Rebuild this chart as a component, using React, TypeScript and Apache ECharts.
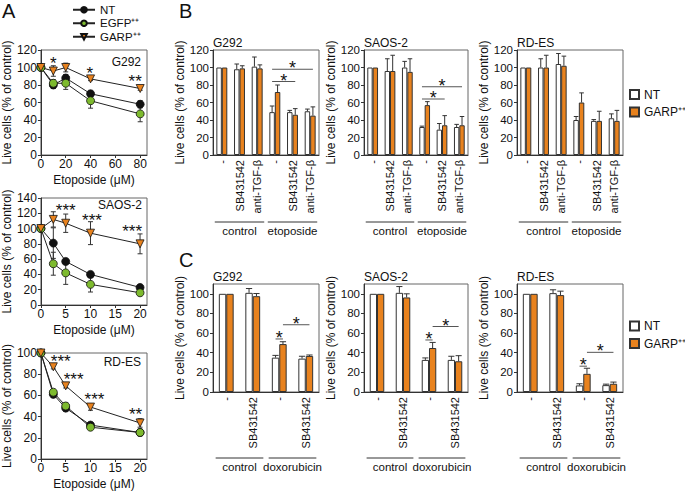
import React, { useEffect, useRef } from 'react';
import * as echarts from 'echarts';

const FONT = '"Liberation Sans", Arial, Helvetica, sans-serif';
const AX = '#333';
const BORDER = '#666';
const TXT = '#111';
const ORANGE = '#E8821E';
const GREEN = '#7DBA2E';

const LINE_NAMES = ['NT', 'EGFP⁺⁺', 'GARP⁺⁺'];
const BAR_NAMES = ['NT ', 'GARP⁺⁺ '];
const Y_NAME = 'Live cells (% of control)';
const A_X_NAME = 'Etoposide (μM)';
const CELL_LINES = ['G292', 'SAOS-2', 'RD-ES'];

// ---------- Panel A ----------
const A1_X = [0, 10, 20, 40, 80];
const A1_X_TICKS = [0, 20, 40, 60, 80];
const A1_NT = [100, 80, 88, 70, 58];
const A1_NT_ERR = [0, 4, 4, 3, 4];
const A1_EGFP = [100, 82, 82, 62, 47];
const A1_EGFP_ERR = [0, 4, 7, 8.5, 9];
const A1_GARP = [100, 96, 100, 87, 76];
const A1_GARP_ERR = [0, 6, 5, 2, 2];
const A1_STARS = [[10, 109, 1], [39.5, 98, 1], [76, 89, 2]];

const A2_X = [0, 2.5, 5, 10, 20];
const A23_X_TICKS = [0, 5, 10, 15, 20];
const A2_NT = [100, 81, 57, 40, 23];
const A2_NT_ERR = [0, 20, 2, 3, 2];
const A2_EGFP = [100, 54, 42, 27, 16];
const A2_EGFP_ERR = [0, 15, 15, 10, 3];
const A2_GARP = [100, 112, 107, 94, 80];
const A2_GARP_ERR = [0, 10, 12, 15, 13];
const A2_STARS = [[5.0, 129, 3], [10.3, 116, 3], [18.4, 102, 3]];

const A3_X = [0, 2.5, 5, 10, 20];
const A3_NT = [100, 61, 48, 32, 25];
const A3_NT_ERR = [0, 3, 3, 2, 3];
const A3_EGFP = [100, 63, 50, 30, 25];
const A3_EGFP_ERR = [0, 2, 3, 2, 3];
const A3_GARP = [100, 87, 69, 49, 34];
const A3_GARP_ERR = [0, 2, 2, 3, 4];
const A3_STARS = [[4.0, 96, 3], [6.6, 79, 3], [10.8, 60, 3], [19.1, 46, 2]];

// ---------- Panel B ----------
const B_CATS = ['-', 'SB431542', 'anti-TGF-β', '-', 'SB431542', 'anti-TGF-β'];
const B_GROUPS = ['control', 'etoposide'];
const B_GROUP_SPANS = [[0, 2, 0], [3, 5, 1]];
const B1_NT = [100, 98, 101, 49, 49, 50];
const B1_NT_ERR = [0, 6, 11, 7, 2, 2.5];
const B1_GARP = [100, 99, 99, 72, 46, 45];
const B1_GARP_ERR = [0, 3, 4, 8, 7, 10];
const B1_SIG = [[3, 0, 4, 1, 84, 1], [3, 0, 5, 1, 98, 1]];
const B2_NT = [100, 96, 100, 32, 29, 32];
const B2_NT_ERR = [0, 14, 7, 1, 7, 3];
const B2_GARP = [100, 96, 95, 57, 34, 34];
const B2_GARP_ERR = [0, 18, 15, 4, 11, 10];
const B2_SIG = [[3, 0, 4, 1, 64, 1], [3, 0, 5, 1, 78, 1]];
const B3_NT = [100, 100, 104, 40, 39, 42];
const B3_NT_ERR = [0, 10, 12, 4, 1.5, 5];
const B3_GARP = [100, 100, 102, 60, 39, 39];
const B3_GARP_ERR = [0, 14, 11, 11, 11, 12];
const B3_SIG: number[][] = [];

// ---------- Panel C ----------
const C_CATS = ['-', 'SB431542', '-', 'SB431542'];
const C_GROUPS = ['control', 'doxorubicin'];
const C_GROUP_SPANS = [[0, 1, 0], [2, 3, 1]];
const C_Y_TICKS = [0, 20, 40, 60, 80, 100];
const C1_NT = [100, 101, 35, 34];
const C1_NT_ERR = [0, 4.4, 2.3, 2.4];
const C1_GARP = [100, 97.6, 48.8, 36.7];
const C1_GARP_ERR = [0, 2.7, 2.4, 1];
const C1_SIG = [[2, 0, 2, 1, 54, 1], [2, 1, 3, 1, 68.5, 1]];
const C2_NT = [100, 101, 32.7, 32.7];
const C2_NT_ERR = [0, 6.4, 2, 3.7];
const C2_GARP = [100, 96.3, 44.8, 31.3];
const C2_GARP_ERR = [0, 3.7, 5.7, 5.7];
const C2_SIG = [[2, 0, 2, 1, 53, 1], [2, 1, 3, 1, 66.7, 1]];
const C3_NT = [100, 100.7, 6.7, 7];
const C3_NT_ERR = [0, 3.4, 1.7, 1];
const C3_GARP = [100, 98.7, 18.5, 8.4];
const C3_GARP_ERR = [0, 4, 5.7, 1.7];
const C3_SIG = [[2, 0, 2, 1, 26.3, 1], [2, 1, 3, 1, 40.4, 1]];

// ---------- helpers ----------
const LINE_LOOK = [
  { symbol: 'circle', size: 8, rotate: 0, color: '#111' },
  { symbol: 'circle', size: 8, rotate: 0, color: GREEN },
  { symbol: 'triangle', size: 8, rotate: 180, color: ORANGE },
];

const emptyGroup = () => ({ type: 'group', children: [] });

const lineErrRender = (params: any, api: any) => {
  const x = api.value(0), y = api.value(1), e = api.value(2);
  if (!e) return emptyGroup();
  const p1 = api.coord([x, y + e]);
  const p2 = api.coord([x, y - e]);
  const st = { stroke: AX, lineWidth: 1 };
  const c = 2.5;
  return {
    type: 'group',
    children: [
      { type: 'line', shape: { x1: p1[0], y1: p1[1], x2: p2[0], y2: p2[1] }, style: st },
      { type: 'line', shape: { x1: p1[0] - c, y1: p1[1], x2: p1[0] + c, y2: p1[1] }, style: st },
      { type: 'line', shape: { x1: p2[0] - c, y1: p2[1], x2: p2[0] + c, y2: p2[1] }, style: st },
    ],
  };
};

const starRender = (params: any, api: any) => {
  const p = api.coord([api.value(0), api.value(1)]);
  return {
    type: 'text',
    style: {
      text: '*'.repeat(api.value(2)), x: p[0], y: p[1] + 4,
      align: 'center', verticalAlign: 'middle', font: `17px ${FONT}`, fill: TXT,
    },
  };
};

const barErrRender = (frac: number) => (params: any, api: any) => {
  const cat = api.value(0), v = api.value(1), e = api.value(2), b = api.value(3);
  if (!e) return emptyGroup();
  const w = api.size([1, 0])[0] * frac;
  const base = api.coord([cat, v]);
  const top = api.coord([cat, v + e]);
  const x = base[0] + (b === 0 ? -w / 2 : w / 2);
  const c = w * 0.42;
  const st = { stroke: AX, lineWidth: 1 };
  return {
    type: 'group',
    children: [
      { type: 'line', shape: { x1: x, y1: base[1], x2: x, y2: top[1] }, style: st },
      { type: 'line', shape: { x1: x - c, y1: top[1], x2: x + c, y2: top[1] }, style: st },
    ],
  };
};

const sigRender = (frac: number) => (params: any, api: any) => {
  const w = api.size([1, 0])[0] * frac;
  const a = api.coord([api.value(0), api.value(4)]);
  const b = api.coord([api.value(2), api.value(4)]);
  const x1 = a[0] + (api.value(1) === 0 ? -w / 2 : w / 2);
  const x2 = b[0] + (api.value(3) === 0 ? -w / 2 : w / 2);
  const y = a[1];
  return {
    type: 'group',
    children: [
      { type: 'line', shape: { x1, y1: y, x2, y2: y }, style: { stroke: '#555', lineWidth: 1 } },
      {
        type: 'text',
        style: {
          text: '*'.repeat(api.value(5)), x: (x1 + x2) / 2, y: y - 1,
          align: 'center', verticalAlign: 'middle', font: `18px ${FONT}`, fill: TXT,
        },
      },
    ],
  };
};

const groupRender = (labels: string[], offset: number) => (params: any, api: any) => {
  const w = api.size([1, 0])[0];
  const a = api.coord([api.value(0), 0]);
  const b = api.coord([api.value(1), 0]);
  const x1 = a[0] - w * 0.4, x2 = b[0] + w * 0.4;
  const y = a[1] + offset;
  return {
    type: 'group',
    children: [
      { type: 'line', shape: { x1, y1: y, x2, y2: y }, style: { stroke: AX, lineWidth: 1 } },
      {
        type: 'text',
        style: {
          text: labels[api.value(2)], x: (x1 + x2) / 2, y: y + 3,
          align: 'center', verticalAlign: 'top', font: `11.5px ${FONT}`, fill: TXT,
        },
      },
    ],
  };
};

function buildOption() {
  const grids = [
    { left: 38, top: 50, width: 109, height: 105 },
    { left: 38, top: 198, width: 109, height: 107 },
    { left: 38, top: 353, width: 109, height: 107 },
    { left: 213, top: 50, width: 106, height: 105 },
    { left: 364, top: 50, width: 104, height: 105 },
    { left: 517, top: 50, width: 106, height: 105 },
    { left: 213, top: 284, width: 106, height: 108 },
    { left: 364, top: 284, width: 104, height: 108 },
    { left: 517, top: 284, width: 106, height: 108 },
  ].map((g) => ({ ...g, show: true, borderColor: BORDER, borderWidth: 1, backgroundColor: 'transparent' }));

  const xAxis: any[] = [];
  const yAxis: any[] = [];
  const series: any[] = [];

  const yName = (gap: number, fs: number) => ({
    name: Y_NAME, nameLocation: 'middle', nameGap: gap, nameRotate: 90,
    nameTextStyle: { fontSize: fs, color: TXT, fontFamily: FONT },
  });

  // Panel A
  const aSets = [
    { X: A1_X, ticks: A1_X_TICKS, xmax: 85.5, ymax: 120, vals: [A1_NT, A1_EGFP, A1_GARP], errs: [A1_NT_ERR, A1_EGFP_ERR, A1_GARP_ERR], stars: A1_STARS },
    { X: A2_X, ticks: A23_X_TICKS, xmax: 21.4, ymax: 140, vals: [A2_NT, A2_EGFP, A2_GARP], errs: [A2_NT_ERR, A2_EGFP_ERR, A2_GARP_ERR], stars: A2_STARS },
    { X: A3_X, ticks: A23_X_TICKS, xmax: 21.4, ymax: 100, vals: [A3_NT, A3_EGFP, A3_GARP], errs: [A3_NT_ERR, A3_EGFP_ERR, A3_GARP_ERR], stars: A3_STARS },
  ];
  aSets.forEach((s, g) => {
    xAxis.push({
      type: 'value', gridIndex: g, min: 0, max: s.xmax,
      axisLine: { show: true, onZero: false, lineStyle: { color: AX, width: 1 } },
      axisTick: { show: true, length: 3, customValues: s.ticks, lineStyle: { color: AX } },
      axisLabel: { customValues: s.ticks, fontSize: 12, color: TXT, fontFamily: FONT, margin: 3 },
      splitLine: { show: false },
      name: A_X_NAME, nameLocation: 'middle', nameGap: 19,
      nameTextStyle: { fontSize: 12, color: TXT, fontFamily: FONT },
    });
    yAxis.push({
      type: 'value', gridIndex: g, min: 0, max: s.ymax, interval: 20,
      axisLine: { show: true, lineStyle: { color: AX, width: 1 } },
      axisTick: { show: true, length: 3, lineStyle: { color: AX } },
      axisLabel: { fontSize: 12, color: TXT, fontFamily: FONT, margin: 4 },
      splitLine: { show: false },
      ...yName(26, 12),
    });
    const errData: number[][] = [];
    s.vals.forEach((vals, k) => {
      const look = LINE_LOOK[k];
      series.push({
        type: 'line', name: LINE_NAMES[k], xAxisIndex: g, yAxisIndex: g,
        data: s.X.map((x, i) => [x, vals[i]]),
        symbol: look.symbol, symbolSize: look.size, symbolRotate: look.rotate,
        itemStyle: { color: look.color, borderColor: '#111', borderWidth: 0.8 },
        lineStyle: { color: '#222', width: 1 },
        z: 4, silent: true,
      });
      s.X.forEach((x, i) => errData.push([x, vals[i], s.errs[k][i]]));
    });
    series.push({
      type: 'custom', xAxisIndex: g, yAxisIndex: g, data: errData,
      encode: { x: 0, y: 1 }, renderItem: lineErrRender, z: 3, silent: true,
    });
    series.push({
      type: 'custom', xAxisIndex: g, yAxisIndex: g, data: s.stars,
      encode: { x: 0, y: 1 }, renderItem: starRender, z: 5, silent: true,
    });
  });

  // Panels B & C
  const barSets = [
    { cats: B_CATS, groups: B_GROUPS, spans: B_GROUP_SPANS, ymax: 120, frac: 0.31, goff: 67, nt: B1_NT, ntE: B1_NT_ERR, ga: B1_GARP, gaE: B1_GARP_ERR, sig: B1_SIG, gap: 26 },
    { cats: B_CATS, groups: B_GROUPS, spans: B_GROUP_SPANS, ymax: 120, frac: 0.31, goff: 67, nt: B2_NT, ntE: B2_NT_ERR, ga: B2_GARP, gaE: B2_GARP_ERR, sig: B2_SIG, gap: 26 },
    { cats: B_CATS, groups: B_GROUPS, spans: B_GROUP_SPANS, ymax: 120, frac: 0.31, goff: 67, nt: B3_NT, ntE: B3_NT_ERR, ga: B3_GARP, gaE: B3_GARP_ERR, sig: B3_SIG, gap: 26 },
    { cats: C_CATS, groups: C_GROUPS, spans: C_GROUP_SPANS, ymax: 110, frac: 0.28, goff: 66, nt: C1_NT, ntE: C1_NT_ERR, ga: C1_GARP, gaE: C1_GARP_ERR, sig: C1_SIG, gap: 26 },
    { cats: C_CATS, groups: C_GROUPS, spans: C_GROUP_SPANS, ymax: 110, frac: 0.28, goff: 66, nt: C2_NT, ntE: C2_NT_ERR, ga: C2_GARP, gaE: C2_GARP_ERR, sig: C2_SIG, gap: 26 },
    { cats: C_CATS, groups: C_GROUPS, spans: C_GROUP_SPANS, ymax: 110, frac: 0.28, goff: 66, nt: C3_NT, ntE: C3_NT_ERR, ga: C3_GARP, gaE: C3_GARP_ERR, sig: C3_SIG, gap: 26 },
  ];
  barSets.forEach((s, j) => {
    const g = j + 3;
    const isC = s.ymax !== 120;
    xAxis.push({
      type: 'category', gridIndex: g, data: s.cats,
      axisLine: { show: true, lineStyle: { color: AX, width: 1 } },
      axisTick: { show: false },
      axisLabel: { interval: 0, rotate: 90, fontSize: 11, color: TXT, fontFamily: FONT, margin: 5 },
      splitLine: { show: false },
    });
    const yAx: any = {
      type: 'value', gridIndex: g, min: 0, max: s.ymax, interval: 20,
      axisLine: { show: true, lineStyle: { color: AX, width: 1 } },
      axisTick: { show: true, length: 3, lineStyle: { color: AX } },
      axisLabel: { fontSize: 11.5, color: TXT, fontFamily: FONT, margin: 4 },
      splitLine: { show: false },
      ...yName(s.gap, 12),
    };
    if (isC) {
      yAx.axisTick.customValues = C_Y_TICKS;
      yAx.axisLabel.customValues = C_Y_TICKS;
    }
    yAxis.push(yAx);
    const bw = `${Math.round(s.frac * 100)}%`;
    series.push({
      type: 'bar', name: BAR_NAMES[0], xAxisIndex: g, yAxisIndex: g, data: s.nt,
      barWidth: bw, barGap: '0%',
      itemStyle: { color: '#ffffff', borderColor: '#333', borderWidth: 1 }, silent: true,
    });
    series.push({
      type: 'bar', name: BAR_NAMES[1], xAxisIndex: g, yAxisIndex: g, data: s.ga,
      barWidth: bw, barGap: '0%',
      itemStyle: { color: ORANGE, borderColor: '#333', borderWidth: 1 }, silent: true,
    });
    const errData: number[][] = [];
    s.nt.forEach((v, i) => errData.push([i, v, s.ntE[i], 0]));
    s.ga.forEach((v, i) => errData.push([i, v, s.gaE[i], 1]));
    series.push({
      type: 'custom', xAxisIndex: g, yAxisIndex: g, data: errData,
      encode: { x: 0, y: 1 }, renderItem: barErrRender(s.frac), z: 4, silent: true,
    });
    if (s.sig.length) {
      series.push({
        type: 'custom', xAxisIndex: g, yAxisIndex: g, data: s.sig,
        encode: { x: 0, y: 4 }, renderItem: sigRender(s.frac), z: 5, silent: true,
      });
    }
    series.push({
      type: 'custom', xAxisIndex: g, yAxisIndex: g, data: s.spans,
      encode: { x: 0, y: 2 }, renderItem: groupRender(s.groups, s.goff), z: 5, silent: true,
    });
  });

  const txt = (text: string, x: number, y: number, size: number, align = 'left') => ({
    type: 'text', x, y, silent: true,
    style: { text, font: `${size}px ${FONT}`, fill: TXT, align, verticalAlign: 'middle' },
  });

  const graphic = [
    txt('A', 2, 11, 20),
    txt('B', 179, 11, 20),
    txt('C', 179, 260, 20),
    txt(CELL_LINES[0], 141, 62, 12, 'right'),
    txt(CELL_LINES[1], 142, 205, 12, 'right'),
    txt(CELL_LINES[2], 141, 362, 12, 'right'),
    txt(CELL_LINES[0], 213, 43, 12),
    txt(CELL_LINES[1], 364, 43, 12),
    txt(CELL_LINES[2], 517, 43, 12),
    txt(CELL_LINES[0], 213, 277, 12),
    txt(CELL_LINES[1], 364, 277, 12),
    txt(CELL_LINES[2], 517, 277, 12),
  ];

  const barLegendText = { fontSize: 12, color: TXT, fontFamily: FONT, lineHeight: 12 };
  const barLegend = (top: number) => ({
    left: 629, top, orient: 'vertical', data: BAR_NAMES, icon: 'rect',
    itemWidth: 9, itemHeight: 9, itemGap: 5.5, padding: 0, selectedMode: false,
    formatter: (n: string) => n.trim(), textStyle: barLegendText,
  });

  return {
    animation: false,
    textStyle: { fontFamily: FONT },
    grid: grids,
    xAxis,
    yAxis,
    series,
    graphic,
    legend: [
      {
        left: 72, top: 3, orient: 'vertical', data: LINE_NAMES,
        itemWidth: 22, itemHeight: 7, itemGap: 0, padding: 0, selectedMode: false,
        textStyle: { fontSize: 11.5, color: TXT, fontFamily: FONT, lineHeight: 13.5 },
      },
      barLegend(88.5),
      barLegend(320),
    ],
  };
}

export default function App() {
  const ref = useRef<HTMLDivElement>(null);
  useEffect(() => {
    if (!ref.current) return;
    const chart = echarts.init(ref.current, null, { renderer: 'svg' });
    chart.setOption(buildOption() as any);
    return () => chart.dispose();
  }, []);
  return (
    <div
      ref={ref}
      style={{ position: 'fixed', left: 0, top: 0, width: 685, height: 491, background: '#fff' }}
    />
  );
}
